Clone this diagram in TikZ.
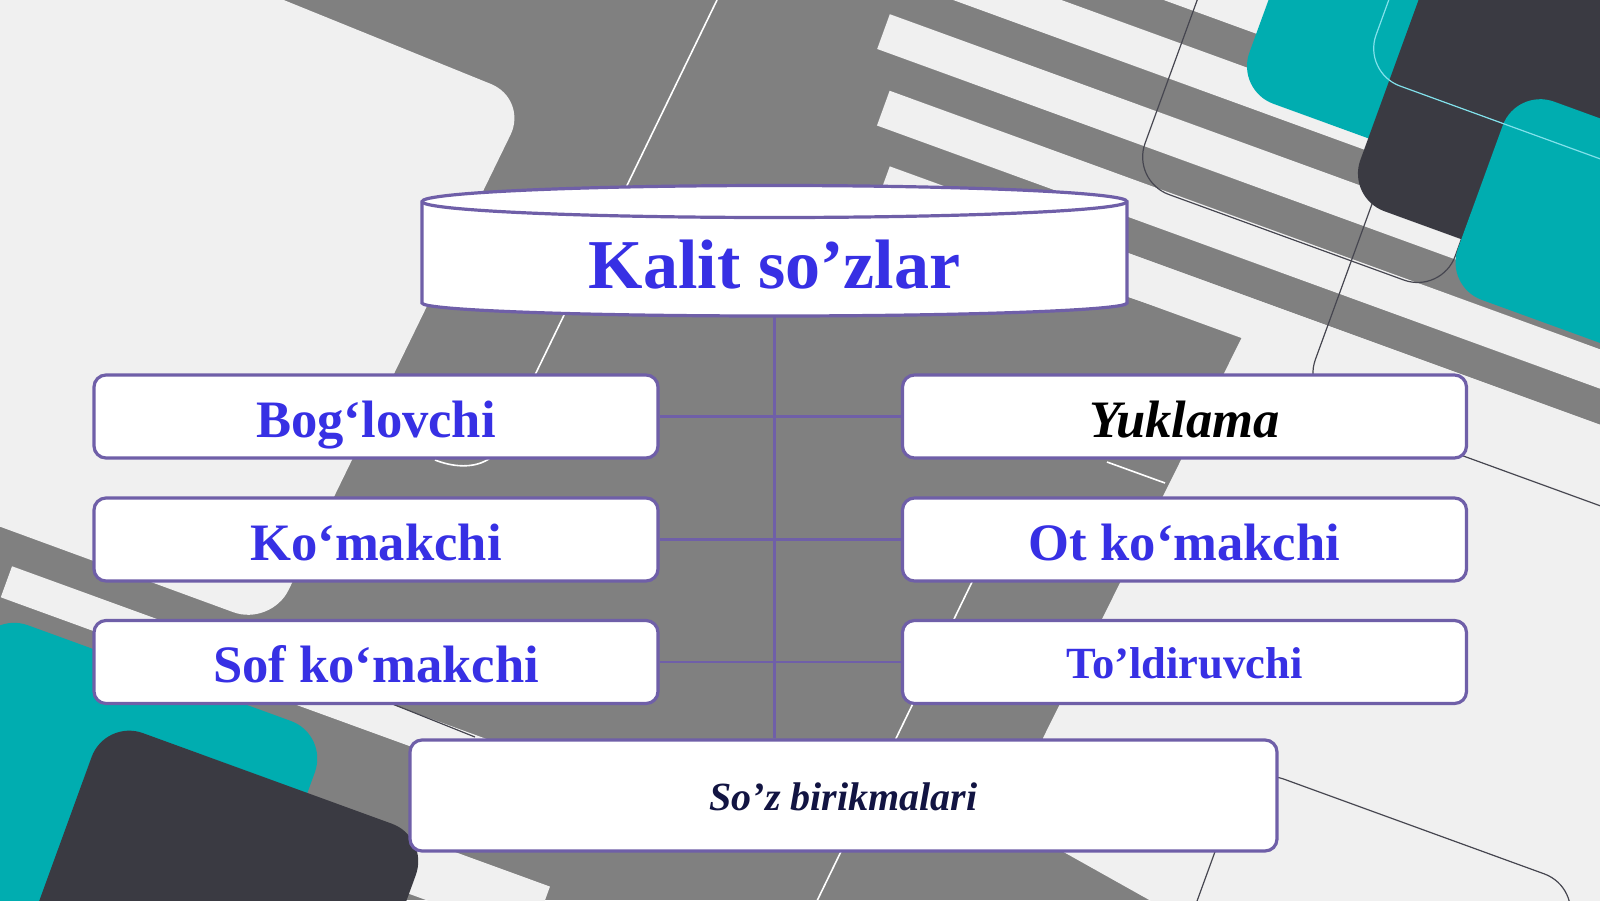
\documentclass[tikz,border=0pt]{standalone}
\usepackage{fontspec}
\setmainfont{Liberation Serif}
\definecolor{bgl}{RGB}{240,240,240}
\definecolor{gry}{RGB}{128,128,128}
\definecolor{drk}{RGB}{58,58,66}
\definecolor{tea}{RGB}{0,173,176}
\definecolor{bord}{RGB}{111,95,168}
\definecolor{txtb}{RGB}{55,48,228}
\definecolor{navy}{RGB}{18,20,66}
\definecolor{oline}{RGB}{70,70,80}
\definecolor{cyanl}{RGB}{130,225,235}
\tikzset{
  kbox/.style={draw=bord, line width=1.6pt, fill=white, rounded corners=6pt,
    minimum width=282pt, minimum height=41.5pt, inner sep=0pt,
    text height=20.5pt, text depth=0pt, align=center},
  conn/.style={draw=bord, line width=1.3pt},
  bluetxt/.style={text=txtb, font=\fontsize{26.3}{30}\selectfont\bfseries},
  bandl/.style={fill=bgl},
  thinline/.style={draw=oline, line width=0.6pt},
}
\begin{document}
\begin{tikzpicture}[x=0.5pt,y=-0.5pt]
\useasboundingbox (0,0) rectangle (1600,900);
\begin{scope}
\clip (0,0) rectangle (1600,900);
\fill[gry] (0,0) rectangle (1600,900);
% top-left light square
\fill[bgl, rounded corners=20pt] (-40,-40) -- (185,-40) -- (528,99) -- (271,626) -- (-40,512) -- cycle;
% diagonal bands
\begin{scope}[rotate=-20]
  \fill[bandl] (763,-507) rectangle (3000,-470);
  \fill[bandl] (789,-435) rectangle (3000,-398);
  \fill[bandl] (815,-363) rectangle (3000,-326);
  \fill[bandl] (841,-291) rectangle (3000,-254);
  \fill[bandl] (867,-219) rectangle (3000,-182);
  \fill[bandl] (893,-148) rectangle (3000,-107);
  \fill[bandl] (205,528) rectangle (870,561);
  \fill[bandl] (600,645) rectangle (820,700);
\end{scope}
% bottom-right light region
\fill[bgl] (1128,253) -- (1620,432) -- (1620,920) -- (1185,920) -- (1060,850) -- (1043,738) -- (1243,335) -- (1128,297) -- cycle;
% outlines and corner squares
\begin{scope}[rotate=-20]
  \draw[thinline, rounded corners=20pt] (1125,-900) rectangle (1455,-217);
  \draw[thinline, rounded corners=20pt] (1359,-900) rectangle (1730,-72);
  \draw[thinline, rounded corners=20pt] (1433,293) rectangle (1790,1300);
  \fill[tea, rounded corners=20pt] (1192,-900) rectangle (1500,-338);
  \fill[drk, rounded corners=20pt] (1333,-900) rectangle (2200,-275);
  \fill[tea, rounded corners=20pt] (1455,-436) rectangle (2200,-225);
  \draw[cyanl, line width=0.6pt, rounded corners=20pt] (1305,-900) rectangle (2200,-398);
  \fill[tea, rounded corners=20pt] (200,578) rectangle (560,1300);
  \fill[drk, rounded corners=20pt] (345,640) rectangle (690,1300);
\end{scope}
% thin light lines
\draw[white, line width=0.8pt] (717,0) -- (500,447) .. controls (488,468) and (460,470) .. (435,460);
\draw[white, line width=0.8pt] (990,545) -- (815,905);
\draw[white, line width=0.8pt] (1107,462) -- (1165,483);
\draw[thinline] (390,703) -- (475,737);
\end{scope}

% ---- cylinder (title) ----
\filldraw[fill=white, draw=bord, line width=1.6pt]
  (422,201.5) -- (422,303)
  arc[start angle=180, end angle=360, x radius=176.25pt, y radius=6.5pt]
  -- (1127,201.5)
  arc[start angle=0, end angle=180, x radius=176.25pt, y radius=8pt] -- cycle;
\draw[bord, line width=1.6pt] (422,201.5)
  arc[start angle=180, end angle=360, x radius=176.25pt, y radius=8pt];
\node[anchor=base, inner sep=0pt, text=txtb, font=\fontsize{35}{40}\selectfont\bfseries] (kalit) at (774.5,288) {Kalit so’zlar};
\coordinate (kbot) at (774.5,316);

% ---- boxes ----
\node[kbox, bluetxt] (bog) at (376,416.5) {Bog‘lovchi};
\node[kbox, bluetxt] (kom) at (376,539.5) {Ko‘makchi};
\node[kbox, bluetxt] (sof) at (376,662) {Sof ko‘makchi};
\node[kbox, text=black, font=\fontsize{26.3}{30}\selectfont\bfseries\itshape] (yuk) at (1184.5,416.5) {Yuklama};
\node[kbox, bluetxt] (otk) at (1184.5,539.5) {Ot ko‘makchi};
\node[kbox, text=txtb, font=\fontsize{22.3}{26}\selectfont\bfseries, text height=16pt] (tol) at (1184.5,662) {To’ldiruvchi};
\node[kbox, minimum width=433.5pt, minimum height=55.5pt, text height=14.5pt, text=navy, font=\fontsize{20}{24}\selectfont\bfseries\itshape] (soz) at (843.5,795.5) {So’z birikmalari};

% ---- connectors ----
\draw[conn] (kbot) -- (kbot |- soz.north);
\draw[conn] (bog.east) -- (yuk.west);
\draw[conn] (kom.east) -- (otk.west);
\draw[conn] (sof.east) -- (tol.west);
\end{tikzpicture}
\end{document}
